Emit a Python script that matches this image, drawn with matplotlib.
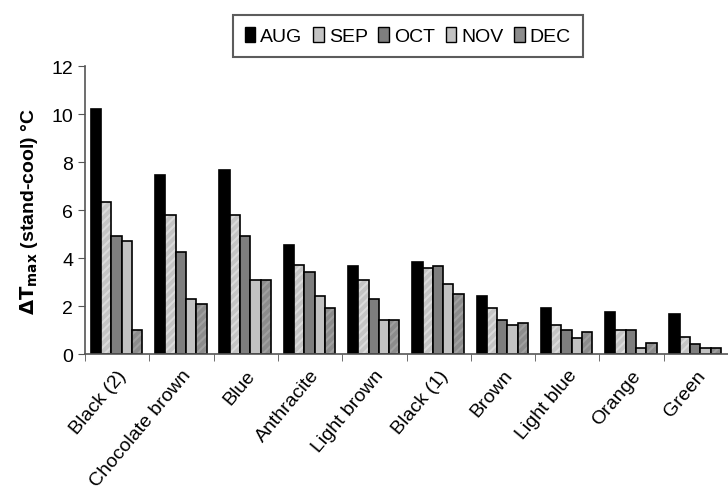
import numpy as np
import matplotlib
matplotlib.use("Agg")
import matplotlib.pyplot as plt

plt.rcParams['font.family'] = ['Liberation Sans', 'DejaVu Sans']

colours = ["Black (2)", "Chocolate brown", "Blue", "Anthracite", "Light brown",
           "Black (1)", "Brown", "Light blue", "Orange", "Green"]
months = ["AUG", "SEP", "OCT", "NOV", "DEC"]

aug = [10.2, 7.45, 7.65, 4.55, 3.65, 3.85, 2.4, 1.9, 1.75, 1.65]
sep = [6.35, 5.8, 5.8, 3.7, 3.1, 3.6, 1.9, 1.2, 1.0, 0.72]
octo = [4.9, 4.25, 4.9, 3.4, 2.3, 3.65, 1.4, 1.0, 1.0, 0.42]
nov = [4.7, 2.3, 3.1, 2.4, 1.4, 2.9, 1.2, 0.65, 0.25, 0.25]
dec = [1.0, 2.1, 3.1, 1.9, 1.4, 2.5, 1.3, 0.9, 0.45, 0.25]

series = [aug, sep, octo, nov, dec]
fills = ["#000000", "#c4c4c4", "#7e7e7e", "#c2c2c2", "#8c8c8c"]
hatches = [None, "////", None, None, "////"]
hatch_cols = [None, "#dadada", None, None, "#a0a0a0"]

fig = plt.figure(figsize=(7.28, 5.02), dpi=100)
ax = fig.add_axes([0.1168, 0.2928, 0.8832, 0.5737])

x = np.arange(len(colours))
w = 0.16
plt.rcParams['hatch.linewidth'] = 1.5
for i, (vals, fc) in enumerate(zip(series, fills)):
    pos = x + (i - 2) * w - 0.01
    if hatches[i]:
        ax.bar(pos, vals, w, color=fc, edgecolor=hatch_cols[i], hatch=hatches[i], linewidth=0)
        ax.bar(pos, vals, w, fill=False, edgecolor='black', linewidth=1.2)
    else:
        ax.bar(pos, vals, w, color=fc, edgecolor='black', linewidth=1.2)

# legend with plain filled boxes
handles = [plt.Rectangle((0, 0), 1, 1, facecolor=fc, edgecolor='black', linewidth=1) for fc in fills]
leg = ax.legend(handles, months, loc='upper center', bbox_to_anchor=(0.502, 1.21), ncol=5,
                frameon=True, fancybox=False, fontsize=14, handlelength=0.55, handleheight=0.8,
                handletextpad=0.25, columnspacing=0.55, borderpad=0.6)
leg.get_frame().set_edgecolor('#333333')
leg.get_frame().set_linewidth(1.5)

ax.set_ylim(0, 12)
ax.set_yticks(range(0, 13, 2))
ax.set_xlim(-0.5, 9.17)
ax.set_xticks(x)
ax.set_xticklabels(colours, rotation=50, ha='right', rotation_mode='anchor', fontsize=14)
ax.set_xticks(np.arange(-0.5, 10, 1), minor=True)
ax.tick_params(axis='x', which='major', length=0, pad=9)
ax.tick_params(axis='x', which='minor', length=5, color='#555555')
ax.tick_params(axis='y', labelsize=14, length=5, color='#555555')

for s in ['top', 'right']:
    ax.spines[s].set_visible(False)
for s in ['left', 'bottom']:
    ax.spines[s].set_color('#555555')
    ax.spines[s].set_linewidth(1.2)

ax.set_ylabel(r'$\mathbf{\Delta T_{max}}$ (stand-cool) °C', fontsize=14, fontweight='bold', labelpad=8)

fig.savefig("out.png", dpi=100)
